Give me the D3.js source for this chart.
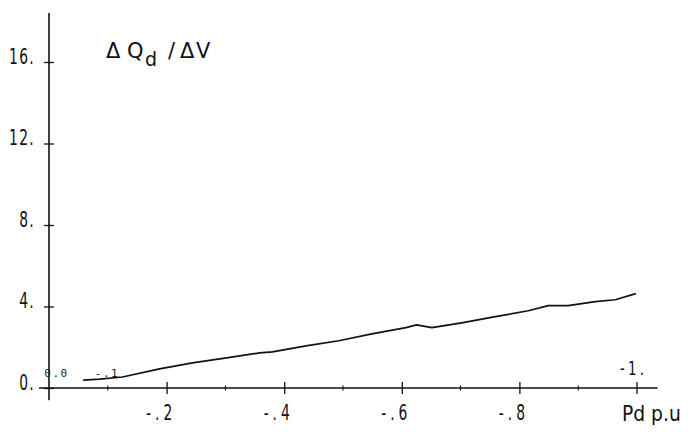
<!DOCTYPE html>
<html>
<head>
<meta charset="utf-8">
<script src="https://cdn.jsdelivr.net/npm/d3@7"></script>
<style>
    body { margin: 0; background: #fff; }
    svg { display: block; }
</style>
</head>
<body>
<svg id="chart" width="699" height="432"></svg>
<script>
// Pd (p.u) and dQd/dV
const pd = [-0.058, -0.086, -0.125, -0.188, -0.244, -0.302, -0.358, -0.380, -0.437, -0.493,
    -0.549, -0.607, -0.625, -0.651, -0.702, -0.759, -0.815, -0.849, -0.883, -0.929, -0.963, -0.998];
const dqdv = [0.39, 0.44, 0.54, 0.94, 1.23, 1.48, 1.72, 1.77, 2.07, 2.32,
    2.66, 2.96, 3.10, 2.96, 3.20, 3.50, 3.79, 4.04, 4.04, 4.24, 4.33, 4.63];

const xTicks = [-0.2, -0.4, -0.6, -0.8];
const xTickLabels = ["-.2", "-.4", "-.6", "-.8"];
const xMinor = [-0.1, -0.3, -0.5, -0.7, -0.9];
const yTicks = [0, 4, 8, 12, 16];
const yTickLabels = ["0.", "4.", "8.", "12.", "16."];

const data = pd.map((p, i) => ({x: p, y: dqdv[i]}));

const svg = d3.select("#chart");
const font = "'DejaVu Sans', sans-serif";
const ink = "#111";

const x = d3.scaleLinear().domain([0, -1]).range([49, 637]);
const y = d3.scaleLinear().domain([0, 16]).range([388, 62]);

// narrow plotter-ish lettering (squeezed with a transform)
function plotter(t, size) {
    t.attr("font-family", font).attr("font-size", size).attr("fill", ink)
        .attr("x", 0).attr("y", 0).attr("dy", 0);
}

// axis lines
svg.append("line")
    .attr("x1", x(0.017)).attr("x2", x(-1.035))
    .attr("y1", y(0)).attr("y2", y(0))
    .attr("stroke", ink).attr("stroke-width", 1.4);
svg.append("line")
    .attr("x1", x(0)).attr("x2", x(0))
    .attr("y1", y(-0.6)).attr("y2", y(18.4))
    .attr("stroke", ink).attr("stroke-width", 1.6);

// x ticks
const gx = svg.append("g")
    .attr("transform", `translate(0,${y(0)})`)
    .call(d3.axisBottom(x).tickValues(xTicks).tickFormat((d, i) => xTickLabels[i]).tickSize(0).tickPadding(0));
gx.select(".domain").remove();
gx.selectAll(".tick line").attr("y1", -6).attr("y2", 6).attr("stroke", ink).attr("stroke-width", 1.3);
gx.selectAll(".tick text")
    .call(plotter, 21)
    .attr("letter-spacing", 6)
    .attr("text-anchor", "middle")
    .attr("transform", "translate(-6,32) scale(0.66,1)");

svg.append("g")
    .selectAll("line")
    .data(xMinor)
    .join("line")
    .attr("x1", d => x(d)).attr("x2", d => x(d))
    .attr("y1", y(0) - 2.5).attr("y2", y(0) + 2.5)
    .attr("stroke", ink).attr("stroke-width", 1.1);

// -1 tick, label above the axis
svg.append("line")
    .attr("x1", x(-1)).attr("x2", x(-1))
    .attr("y1", y(0) - 6).attr("y2", y(0) + 6)
    .attr("stroke", ink).attr("stroke-width", 1.3);
svg.append("text")
    .call(plotter, 20)
    .attr("letter-spacing", 5)
    .attr("transform", `translate(${x(-1) - 17},${y(0) - 13}) scale(0.66,1)`)
    .text("-1.");

// y ticks
const gy = svg.append("g")
    .attr("transform", `translate(${x(0)},0)`)
    .call(d3.axisLeft(y).tickValues(yTicks).tickFormat((d, i) => yTickLabels[i]).tickSize(0).tickPadding(0));
gy.select(".domain").remove();
gy.selectAll(".tick line").attr("x1", -5).attr("x2", 5).attr("stroke", ink).attr("stroke-width", 1.3);
gy.selectAll(".tick text")
    .call(plotter, 21)
    .attr("letter-spacing", 2)
    .attr("text-anchor", "end")
    .attr("transform", "translate(-14,1) scale(0.66,1)");

// curve
const line = d3.line().x(d => x(d.x)).y(d => y(d.y));
svg.append("path")
    .datum(data)
    .attr("fill", "none")
    .attr("stroke", ink)
    .attr("stroke-width", 1.7)
    .attr("stroke-linejoin", "round")
    .attr("d", line);

// small run labels
svg.selectAll(".run")
    .data([{t: "0.0", px: 0.008}, {t: "-.1", px: -0.078}])
    .join("text")
    .attr("class", "run")
    .attr("x", d => x(d.px)).attr("y", 377)
    .attr("font-family", "'DejaVu Sans Mono', monospace").attr("font-size", 11)
    .attr("letter-spacing", 1.5).attr("fill", "#222")
    .text(d => d.t);

// title, glyph by glyph
const title = svg.append("text")
    .attr("y", 58)
    .attr("font-family", font).attr("font-size", 21).attr("fill", ink);
title.append("tspan").attr("x", 106).text("\u0394");
title.append("tspan").attr("x", 127).text("Q");
title.append("tspan").attr("x", 145).attr("dy", 8).attr("font-size", 19).text("d");
title.append("tspan").attr("x", 168).attr("dy", -8).text("/");
title.append("tspan").attr("x", 180).text("\u0394");
title.append("tspan").attr("x", 196).text("V");

// x axis name
svg.append("text")
    .call(plotter, 22)
    .attr("transform", "translate(622,421) scale(0.85,1)")
    .text("Pd p.u");
</script>
</body>
</html>
